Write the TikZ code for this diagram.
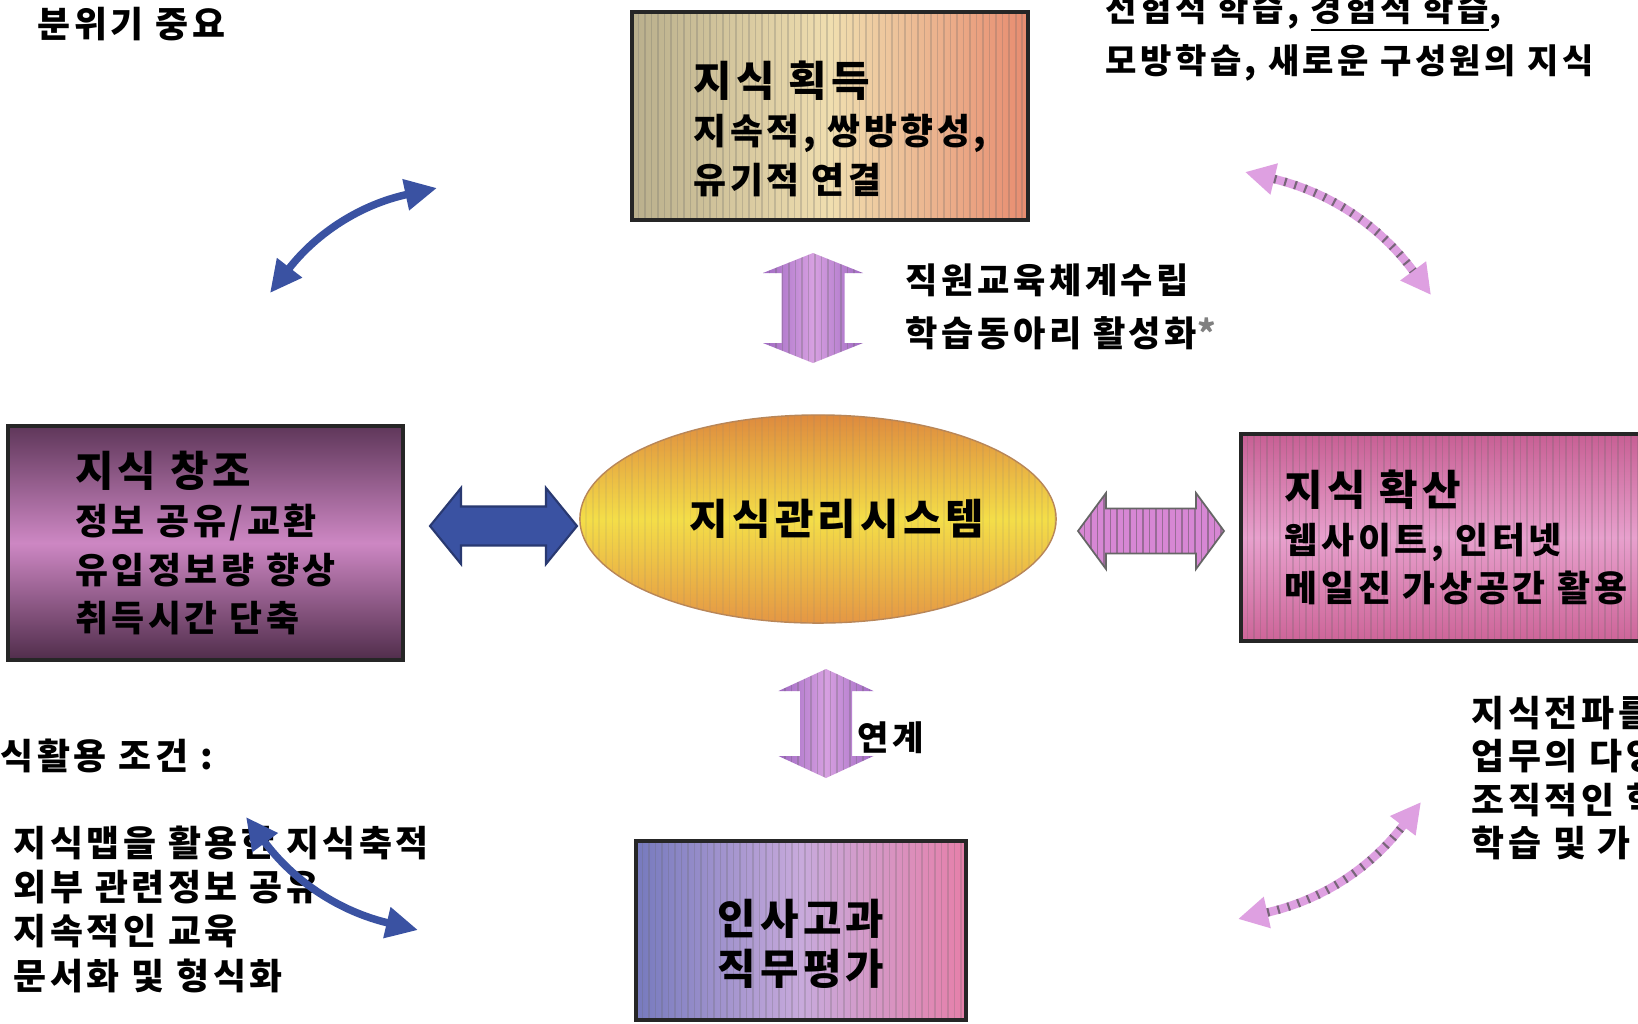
\documentclass[tikz,border=0pt]{standalone}
\usepackage{fontspec}
\setmainfont{Noto Sans CJK KR}[LetterSpace=10]
\usetikzlibrary{shapes.geometric,arrows.meta,positioning}

\definecolor{acqL}{RGB}{185,175,140}
\definecolor{acqM}{RGB}{240,222,175}
\definecolor{acqR}{RGB}{232,140,112}
\definecolor{creT}{RGB}{95,55,90}
\definecolor{creM}{RGB}{205,135,195}
\definecolor{creB}{RGB}{80,45,75}
\definecolor{kmsT}{RGB}{222,138,62}
\definecolor{kmsM}{RGB}{244,222,72}
\definecolor{kmsB}{RGB}{228,150,68}
\definecolor{sprT}{RGB}{200,95,148}
\definecolor{sprM}{RGB}{232,160,205}
\definecolor{sprB}{RGB}{205,100,152}
\definecolor{evaL}{RGB}{118,122,190}
\definecolor{evaM}{RGB}{200,170,220}
\definecolor{evaR}{RGB}{230,128,170}
\definecolor{arrBlue}{RGB}{58,82,162}
\definecolor{arrPurp}{RGB}{160,105,195}
\definecolor{arrPurpL}{RGB}{215,160,225}
\definecolor{arrPink}{RGB}{215,135,212}
\definecolor{arrPinkL}{RGB}{222,160,225}

\newcommand\ttlfont{\fontsize{11.9}{13.7}\selectfont}

% vertical block arrow: style, x, y top, y bottom, half stem, half head, head length
\newcommand\vblock[7]{%
  \path[#1] (#2,#3) -- (#2+#6,#3+#7) -- (#2+#5,#3+#7) -- (#2+#5,#4-#7)
    -- (#2+#6,#4-#7) -- (#2,#4) -- (#2-#6,#4-#7) -- (#2-#5,#4-#7)
    -- (#2-#5,#3+#7) -- (#2-#6,#3+#7) -- cycle;}
% horizontal block arrow: style, y, x left, x right, half stem, half head, head length
\newcommand\hblock[7]{%
  \path[#1] (#3,#2) -- (#3+#7,#2-#6) -- (#3+#7,#2-#5) -- (#4-#7,#2-#5)
    -- (#4-#7,#2-#6) -- (#4,#2) -- (#4-#7,#2+#6) -- (#4-#7,#2+#5)
    -- (#3+#7,#2+#5) -- (#3+#7,#2+#6) -- cycle;}

\begin{document}
\begin{tikzpicture}[x=0.01cm, y=-0.01cm,
    box/.style={rectangle, draw=black!85, line width=1pt, align=left, inner sep=0pt,
        font=\bfseries\fontsize{10.2}{13.7}\selectfont},
    stripes/.style={path picture={
        \foreach \k in {0,...,76}{
            \draw[#1] ([xshift=\k*0.065cm]path picture bounding box.south west)
                -- ([xshift=\k*0.065cm]path picture bounding box.north west);
        }}},
    txt/.style={anchor=west, align=left, inner sep=0pt, font=\bfseries\fontsize{10.2}{12.6}\selectfont},
    bluearrow/.style={{Triangle[length=0.32cm,width=0.3cm]}-{Triangle[length=0.32cm,width=0.3cm]},
        arrBlue, line width=0.075cm},
    pinkarrow/.style={{Triangle[length=0.3cm,width=0.3cm]}-{Triangle[length=0.3cm,width=0.3cm]},
        arrPinkL, line width=0.085cm},
    pinkhatch/.style={draw=black!70, line width=0.085cm, dash pattern=on 0.6pt off 2.4pt,
        shorten <=0.3cm, shorten >=0.3cm, opacity=.7}
]
    \fill[white] (0,0) rectangle (1638,1023);
    \useasboundingbox (0,0) rectangle (1638,1023);

    % Knowledge acquisition
    \node[box, minimum width=3.96cm, minimum height=2.08cm, left color=acqL, right color=acqR,
        middle color=acqM, stripes={black!60, opacity=.25, line width=.5pt}] (acq) at (830,116) {
        \hspace*{0.2cm}\rule{0pt}{0.61cm}{\ttlfont 지식 획득}\\
        \hspace*{0.2cm}지속적, 쌍방향성,\\
        \hspace*{0.2cm}유기적 연결
    };

    % Knowledge creation
    \node[box, minimum width=3.95cm, minimum height=2.34cm, top color=creT, bottom color=creB,
        middle color=creM] (create) at (205.5,543) {
        {\ttlfont 지식 창조}\\
        정보 공유/교환\\
        유입정보량 향상\\
        취득시간 단축
    };

    % Knowledge spread
    \node[box, minimum width=4.3cm, minimum height=2.07cm, top color=sprT, bottom color=sprB,
        middle color=sprM, stripes={black!60, opacity=.25, line width=.5pt}] (spread) at (1456,537.5) {
        {\ttlfont 지식 확산}\\
        웹사이트, 인터넷\\
        메일진 가상공간 활용
    };

    % Evaluation
    \node[box, align=center, minimum width=3.3cm, minimum height=1.79cm, left color=evaL,
        right color=evaR, middle color=evaM, stripes={black!60, opacity=.25, line width=.5pt},
        font=\bfseries\fontsize{11.9}{14.2}\selectfont] (eval) at (801,930.5) {
        \rule{0pt}{0.62cm}인사고과\\직무평가
    };

    % Knowledge management system
    \node[ellipse, minimum width=4.76cm, minimum height=2.08cm, inner sep=0pt, top color=kmsT,
        bottom color=kmsB, middle color=kmsM, draw=kmsT!60!gray,
        stripes={black!50, opacity=.12, line width=.5pt},
        font=\bfseries\fontsize{11.9}{14}\selectfont] (kms) at (818,519) {\hspace*{0.38cm}지식관리시스템};

    % Block arrows
    \vblock{left color=arrPurp, right color=arrPurp, middle color=arrPurpL,
        stripes={black!60, opacity=.3, line width=.5pt}}{813}{253}{363}{31.5}{50}{20}
    \vblock{left color=arrPurp, right color=arrPurp, middle color=arrPurpL,
        stripes={black!60, opacity=.3, line width=.5pt}}{826}{669}{778}{26}{47.5}{22}
    \hblock{fill=arrBlue, draw=arrBlue!70!black, line width=0.6pt}{526}{430}{577}{19.5}{38}{31}
    \hblock{fill=arrPink, draw=black!60, line width=0.5pt,
        stripes={black!70, opacity=.45, line width=.5pt}}{531}{1078}{1224}{22.5}{38}{28}

    % Texts
    \node[txt] (mood) at (37,24) {분위기 중요};
    \node[txt, font=\bfseries\fontsize{9.7}{14.6}\selectfont] (learn) at (1105,37) {
        선험적 학습, \underline{경험적 학습},\\
        모방학습, 새로운 구성원의 지식
    };
    \node[txt, font=\bfseries\fontsize{10}{15}\selectfont] (edu) at (905,307) {
        직원교육체계수립\\
        학습동아리 활성화{\color{black!50}*}
    };
    \node[txt, font=\bfseries\fontsize{9.7}{12}\selectfont] (link) at (857,738) {연계};
    \node[txt] (use) at (0,756) {식활용 조건 :};
    \node[txt] (cond) at (13,909) {
        지식맵을 활용한 지식축적\\
        외부 관련정보 공유\\
        지속적인 교육\\
        문서화 및 형식화
    };
    \node[txt, font=\bfseries\fontsize{10.2}{12.4}\selectfont] (prop) at (1471,778) {
        지식전파를\\
        업무의 다양\\
        조직적인 학\\
        학습 및 가
    };

    % Curved arrows
    \coordinate (tl1) at (270,293);
    \coordinate (tl2) at (437,188);
    \coordinate (bl1) at (246,817);
    \coordinate (bl2) at (418,930);
    \coordinate (tr1) at (1245,172);
    \coordinate (tr2) at (1431,295);
    \coordinate (br1) at (1238,919);
    \coordinate (br2) at (1421,802);
    \draw[bluearrow] (tl1) to[bend left=20] (tl2);
    \draw[bluearrow] (bl1) to[bend right=20] (bl2);
    \draw[pinkarrow] (tr1) to[bend left=20] (tr2);
    \draw[pinkhatch] (tr1) to[bend left=20] (tr2);
    \draw[pinkarrow] (br1) to[bend right=20] (br2);
    \draw[pinkhatch] (br1) to[bend right=20] (br2);
\end{tikzpicture}
\end{document}
